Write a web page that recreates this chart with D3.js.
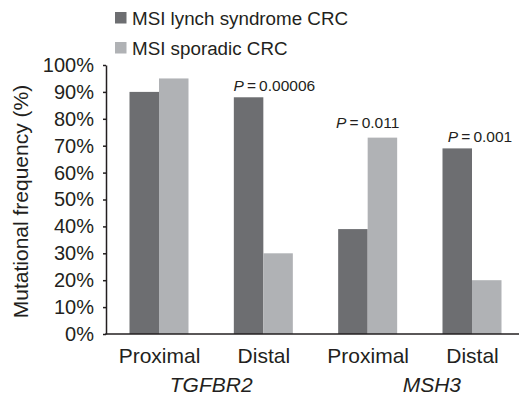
<!DOCTYPE html>
<html lang="en">
<head>
    <meta charset="UTF-8">
    <title>mutational frequency</title>
    <script src="https://d3js.org/d3.v7.min.js"></script>
    <style>
        body{ margin:0; background:#fff; }
        svg{ font-family:"Liberation Sans", Arial, Helvetica, sans-serif; fill:#231f20; }
        .axis path, .axis line{ stroke:#231f20; stroke-width:1.5px; }
        .axis text{ fill:#231f20; }
    </style>
</head>
<body>
<svg id="main" width="519" height="398"></svg>

<script>
    // data
    let groups = ["TGFBR2 Proximal", "TGFBR2 Distal", "MSH3 Proximal", "MSH3 Distal"]
    let tickLabels = ["Proximal", "Distal", "Proximal", "Distal"]
    let genes = ["TGFBR2", "MSH3"]
    let seriesNames = ["MSI lynch syndrome CRC", "MSI sporadic CRC"]
    let lynch = [90, 88, 39, 69]
    let sporadic = [95, 30, 73, 20]
    let pValues = [null, "0.00006", "0.011", "0.001"]
    let yTicks = [0, 10, 20, 30, 40, 50, 60, 70, 80, 90, 100]

    let colors = ["#6d6e71", "#b0b2b5"]
    let width = 519, height = 398

    let svg = d3.select("#main")

    // scales
    let y = d3.scaleLinear().domain([0, 100]).range([334, 65])
    let x = d3.scalePoint().domain(groups).range([159, 472])
    let sub = d3.scaleBand().domain(seriesNames).range([-29.5, 29.5])
    let axisX = 106

    // bars
    let rows = groups.map(function (g, i) {
        return {group: g, values: [lynch[i], sporadic[i]]}
    })
    let bars = svg.append("g")
    rows.forEach(function (r) {
        bars.selectAll(null)
            .data(r.values)
            .enter()
            .append("rect")
            .attr("x", (d, j) => x(r.group) + sub(seriesNames[j]))
            .attr("y", d => y(d))
            .attr("width", sub.bandwidth())
            .attr("height", d => y(0) - y(d))
            .attr("fill", (d, j) => colors[j])
    })

    // y axis
    svg.append("g")
        .attr("class", "axis")
        .attr("transform", "translate(" + axisX + ",0)")
        .call(d3.axisLeft(y).tickValues(yTicks).tickFormat(d => d + "%")
            .tickSize(3).tickSizeOuter(0).tickPadding(9))
        .call(g => g.selectAll("text").style("font-size", "20px"))

    // x axis: plain baseline + labels
    svg.append("line")
        .attr("x1", axisX - 0.75).attr("x2", width)
        .attr("y1", y(0)).attr("y2", y(0))
        .attr("stroke", "#231f20").attr("stroke-width", 1.5)

    svg.append("g")
        .attr("class", "axis")
        .attr("transform", "translate(0," + y(0) + ")")
        .call(d3.axisBottom(x).tickSize(0).tickPadding(14.5).tickFormat((d, i) => tickLabels[i]))
        .call(g => g.select(".domain").remove())
        .call(g => g.selectAll("text").style("font-size", "21px"))

    // gene labels under each pair
    let geneShift = [0, 12]
    svg.selectAll(".gene")
        .data(genes)
        .enter()
        .append("text")
        .attr("class", "gene")
        .attr("x", (d, i) => (x(groups[i * 2]) + x(groups[i * 2 + 1])) / 2 + geneShift[i])
        .attr("y", 392)
        .attr("text-anchor", "middle")
        .style("font-size", "21px")
        .style("font-style", "italic")
        .text(d => d)

    // y title
    svg.append("text")
        .attr("transform", "translate(27.5,201.5) rotate(-90)")
        .attr("text-anchor", "middle")
        .style("font-size", "21px")
        .text("Mutational frequency (%)")

    // p values
    let pShift = [0, 11, 0, 8]
    let pLift = [0, 6, 10, 6]
    groups.forEach(function (g, i) {
        if (!pValues[i]) return
        let t = svg.append("text")
            .attr("x", x(g) + pShift[i])
            .attr("y", y(Math.max(lynch[i], sporadic[i])) - pLift[i])
            .attr("text-anchor", "middle")
            .style("font-size", "15.5px")
        t.append("tspan").style("font-style", "italic").text("P")
        t.append("tspan").text("\u2009=\u2009" + pValues[i])
    })

    // legend
    let legend = svg.append("g")
    seriesNames.forEach(function (s, i) {
        legend.append("rect")
            .attr("x", 115).attr("y", 12 + i * 30)
            .attr("width", 11.5).attr("height", 11.5)
            .attr("fill", colors[i])
        legend.append("text")
            .attr("x", 132).attr("y", 25 + i * 30)
            .style("font-size", "18.8px")
            .text(s)
    })
</script>

</body>
</html>
